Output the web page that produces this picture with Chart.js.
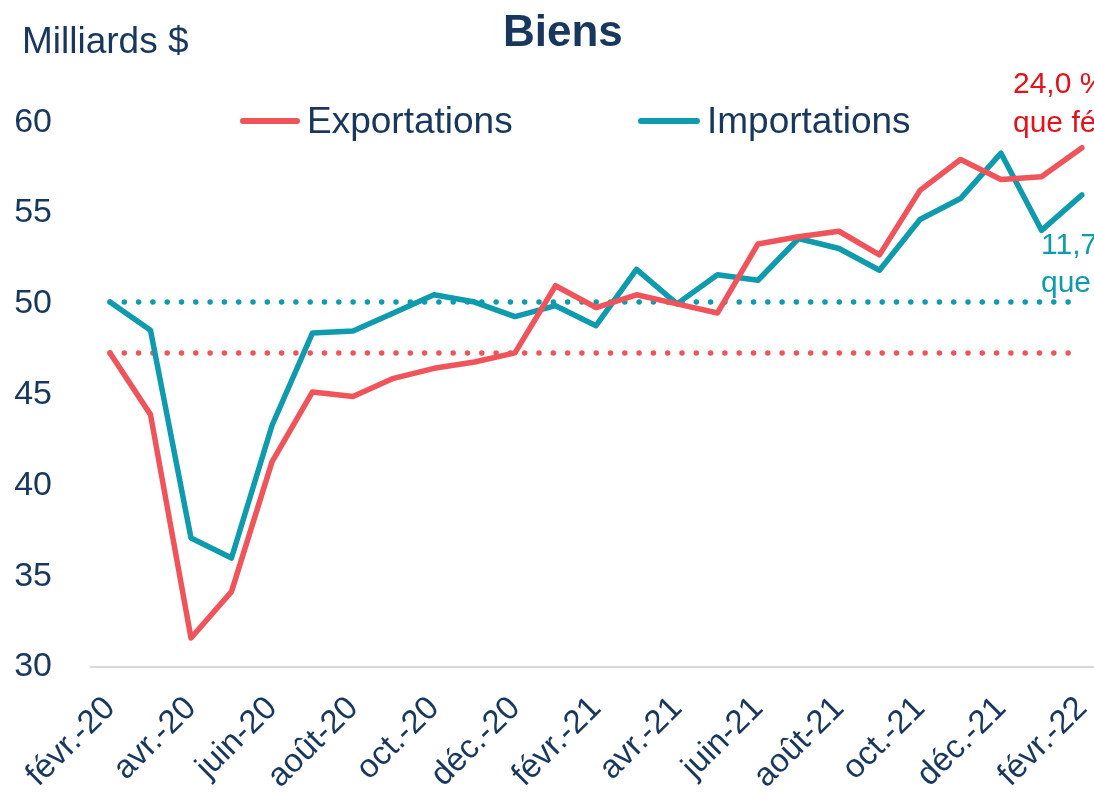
<!DOCTYPE html>
<html lang="fr">
<head>
<meta charset="utf-8">
<title>Biens</title>
<script src="https://cdn.jsdelivr.net/npm/chart.js@4.4.1/dist/chart.umd.min.js"></script>
<style>
  html, body { margin: 0; padding: 0; background: #fff; overflow: hidden; }
  #wrap { position: relative; width: 1094px; height: 807px; overflow: hidden; font-family: "Liberation Sans", Arial, sans-serif; }
  #wrap canvas { position: absolute; left: 0; top: 0; }
  .txt { position: absolute; white-space: nowrap; line-height: 1; color: #17375E; }
  .swatch { position: absolute; height: 6px; border-radius: 3px; }
</style>
</head>
<body>
<div id="wrap">
  <canvas id="chart" width="1094" height="807"></canvas>
  <div class="txt" style="left:503px; top:9px; font-size:44px; font-weight:bold;">Biens</div>
  <div class="txt" style="left:22px; top:22px; font-size:37px;">Milliards $</div>
  <div class="swatch" style="left:240px; top:118px; width:60px; background:#F0545A;"></div>
  <div class="txt" style="left:307px; top:102px; font-size:37px;">Exportations</div>
  <div class="swatch" style="left:638px; top:118px; width:62px; background:#0E9BAE;"></div>
  <div class="txt" style="left:707px; top:102px; font-size:37px;">Importations</div>
  <div class="txt" style="left:1013px; top:63px; font-size:30px; line-height:39px; color:#E3121B;">24,0 % de plus<br>que févr.-20</div>
  <div class="txt" style="left:1041px; top:225px; font-size:30px; line-height:38px; color:#0E9BAE;">11,7 % de plus<br>que févr.-20</div>
</div>
<script>
// Marchandises, milliards de dollars, févr. 2020 à févr. 2022
const months = ['févr.-20', 'mars-20', 'avr.-20', 'mai-20', 'juin-20', 'juil.-20', 'août-20', 'sept.-20',
  'oct.-20', 'nov.-20', 'déc.-20', 'janv.-21', 'févr.-21', 'mars-21', 'avr.-21', 'mai-21', 'juin-21',
  'juil.-21', 'août-21', 'sept.-21', 'oct.-21', 'nov.-21', 'déc.-21', 'janv.-22', 'févr.-22'];
const exportations = [47.3, 43.9, 31.6, 34.15, 41.3, 45.15, 44.9, 45.9, 46.45, 46.8, 47.3, 51.0, 49.8,
  50.5, 50.0, 49.5, 53.3, 53.7, 54.0, 52.7, 56.25, 57.95, 56.85, 57.0, 58.6];
const importations = [50.1, 48.55, 37.1, 36.0, 43.3, 48.4, 48.5, 49.5, 50.5, 50.1, 49.3, 49.9, 48.8,
  51.9, 50.0, 51.6, 51.3, 53.6, 53.05, 51.85, 54.65, 55.8, 58.3, 54.05, 56.0];
const yTicks = [30, 35, 40, 45, 50, 55, 60];

const RED = '#F0545A';
const TEAL = '#0E9BAE';
const NAVY = '#17375E';
const FONT = '"Liberation Sans", Arial, sans-serif';

// niveau de févr.-20 en pointillé + ligne de base grise
const refLines = {
  id: 'refLines',
  beforeDatasetsDraw(chart) {
    const { ctx, scales: { x, y } } = chart;
    const x0 = x.getPixelForValue(0);
    const x1 = x.getPixelForValue(months.length - 1);
    ctx.save();
    ctx.lineWidth = 2;
    ctx.strokeStyle = '#D9D9D9';
    const yb = y.getPixelForValue(yTicks[0]);
    ctx.beginPath();
    ctx.moveTo(90, yb);
    ctx.lineTo(chart.width, yb);
    ctx.stroke();

    ctx.lineWidth = 5.5;
    ctx.lineCap = 'round';
    ctx.setLineDash([0, 14.3]);
    [[exportations[0], RED], [importations[0], TEAL]].forEach(([v, c]) => {
      const py = y.getPixelForValue(v);
      ctx.strokeStyle = c;
      ctx.beginPath();
      ctx.moveTo(x0, py);
      ctx.lineTo(x1 - 8, py);
      ctx.stroke();
    });
    ctx.restore();
  },
};

new Chart(document.getElementById('chart'), {
  type: 'line',
  data: {
    labels: months,
    datasets: [
      { label: 'Exportations', data: exportations, borderColor: RED, borderWidth: 5.5, pointRadius: 0, tension: 0, borderJoinStyle: 'round', borderCapStyle: 'round' },
      { label: 'Importations', data: importations, borderColor: TEAL, borderWidth: 5.5, pointRadius: 0, tension: 0, borderJoinStyle: 'round', borderCapStyle: 'round' },
    ],
  },
  options: {
    responsive: false,
    animation: false,
    layout: { padding: { top: 86, right: 12, left: 0, bottom: 0 } },
    plugins: { legend: { display: false }, tooltip: { enabled: false } },
    scales: {
      x: {
        offset: false,
        grid: { display: false },
        border: { display: false },
        ticks: {
          autoSkip: false,
          minRotation: 45,
          maxRotation: 45,
          padding: 14,
          color: NAVY,
          font: { family: FONT, size: 33 },
          callback: (v, i) => (i % 2 === 0 ? months[i] : ''),
        },
        afterFit: (s) => { s.height = 140; s.paddingLeft = 0; s.paddingRight = 0; },
      },
      y: {
        min: 30,
        max: 62,
        grid: { display: false },
        border: { display: false },
        ticks: { padding: 50, color: NAVY, font: { family: FONT, size: 34 } },
        afterBuildTicks: (s) => { s.ticks = yTicks.map((v) => ({ value: v })); },
        afterFit: (s) => { s.width = 110; },
      },
    },
  },
  plugins: [refLines],
});
</script>
</body>
</html>
